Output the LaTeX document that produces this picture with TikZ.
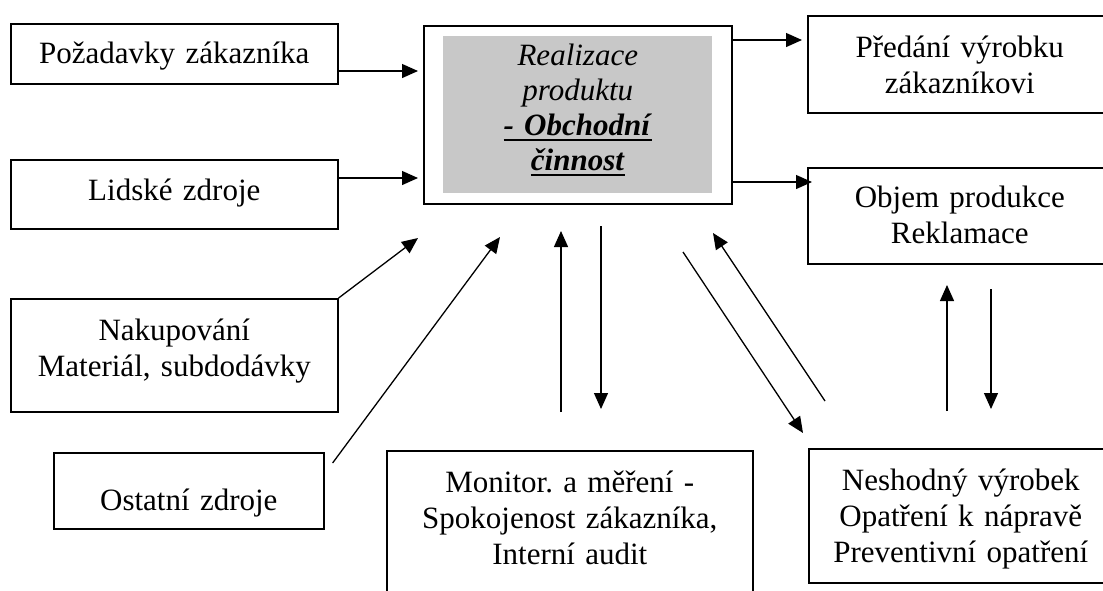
\documentclass[tikz,border=0pt]{standalone}
\usepackage{fontspec}
\setmainfont{Liberation Serif}
\usetikzlibrary{arrows.meta,positioning}
\definecolor{corefill}{RGB}{200,200,200}
\newsavebox{\ulbox}
\newcommand{\uln}[1]{\leavevmode\sbox{\ulbox}{#1}\rlap{\rule[-6pt]{\wd\ulbox}{2.4pt}}\usebox{\ulbox}}
\frenchspacing

\begin{document}
\begin{tikzpicture}[x=1pt,y=-1pt,
            box/.style={draw, line width=1.6pt, inner sep=0pt, align=center,
                font=\fontsize{31pt}{36pt}\selectfont, anchor=north west},
            flow/.style={line width=1.3pt, -{Triangle[length=16pt,width=14pt]}}]

            \path [use as bounding box, clip] (0,0) rectangle (1103,590);

            \node [box, text width=327pt, text height=40pt, text depth=20pt] (poz) at (10,23) {Požadavky zákazníka};
            \node [box, text width=327pt, text height=41pt, text depth=28pt] (lid) at (10,159) {Lidské zdroje};
            \node [box, text width=327pt, text height=42pt, text depth=71pt] (nak) at (10,298) {Nakupování\\Materiál, subdodávky};
            \node [box, text width=270pt, text height=58pt, text depth=18pt] (ost) at (53,452) {Ostatní zdroje};

            \node [draw, line width=1.6pt, inner sep=0pt, minimum width=308pt, minimum height=178pt,
                anchor=north west] (real) at (423,25) {};
            \node [fill=corefill, inner sep=0pt, align=center, text width=269pt, text height=29pt, text depth=128pt,
                font=\fontsize{31pt}{35pt}\selectfont] (core) at (real.center) {
            \textit{Realizace}\\\textit{produktu}\\
            \uln{\textbf{\textit{- Obchodní}}}\\\uln{\textbf{\textit{činnost}}}};

            \node [box, text width=304pt, text height=42pt, text depth=55pt] (pred) at (807,15) {Předání výrobku\\zákazníkovi};
            \node [box, text width=304pt, text height=40pt, text depth=56pt] (obj) at (807,167) {Objem produkce\\Reklamace};
            \node [box, text width=304pt, text height=42pt, text depth=92pt] (nes) at (808,448) {Neshodný výrobek\\Opatření k nápravě\\Preventivní opatření};
            \node [box, text width=366pt, text height=42pt, text depth=120pt] (mon) at (386,450) {Monitor. a měření -\\Spokojenost zákazníka,\\Interní audit};

            \coordinate (p1) at (418,71);
            \coordinate (p2) at (418,178);
            \coordinate (p3) at (418,238);
            \coordinate (p4) at (500,237);
            \coordinate (q1) at (802,40);
            \coordinate (q2) at (812,182);
            \coordinate (u1) at (561,412);
            \coordinate (u2) at (561,231);
            \coordinate (d1) at (601,226);
            \coordinate (d2) at (601,409);
            \coordinate (e1) at (683,252);
            \coordinate (e2) at (803,433);
            \coordinate (f1) at (825,401);
            \coordinate (f2) at (713,233);
            \coordinate (g1) at (947,411);
            \coordinate (g2) at (947,285);
            \coordinate (h1) at (991,289);
            \coordinate (h2) at (991,409);

            \draw [flow] (poz.east |- p1) -- (p1);
            \draw [flow] (lid.east |- p2) -- (p2);
            \draw [flow] (nak.north east) -- (p3);
            \draw [flow] ([xshift=8pt,yshift=-11pt]ost.north east) -- (p4);
            \draw [flow] (real.east |- q1) -- (q1);
            \draw [flow] (real.east |- q2) -- (q2);
            \draw [flow] (u1) -- (u2);
            \draw [flow] (d1) -- (d2);
            \draw [flow] (e1) -- (e2);
            \draw [flow] (f1) -- (f2);
            \draw [flow] (g1) -- (g2);
            \draw [flow] (h1) -- (h2);

        \end{tikzpicture}
\end{document}
